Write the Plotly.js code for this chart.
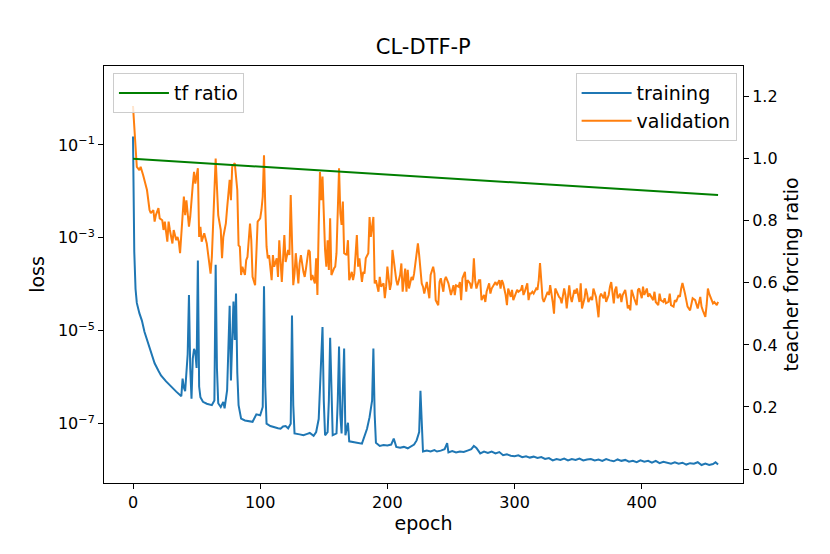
<!DOCTYPE html>
<html>
<head>
<meta charset="utf-8">
<script src="https://cdn.plot.ly/plotly-3.0.1.min.js"></script>
<style>
  body { margin: 0; background: #fff; }
  #graphDiv { width: 830px; height: 554px; }
</style>
</head>
<body>
<div id="graphDiv"></div>
<script>
// training loss as log10 values
var trainEpoch = [0, 1, 2, 3, 5, 7, 9, 12, 15, 17, 20, 22, 26, 30, 34, 38, 39, 40, 41, 43, 44, 45, 46, 47, 48, 49, 50, 51, 52, 53, 55, 58, 62, 64, 65, 66, 67, 69, 71, 72, 74, 76, 77, 79, 80, 81, 82, 83, 85, 88, 91, 94, 97, 100, 102, 103, 104, 105, 108, 111, 114, 116, 118, 120, 122, 124, 125, 126, 127, 131, 134, 137, 139, 142, 144, 146, 147, 149, 150, 151, 153, 154, 155, 156, 157, 160, 161, 162, 163, 164, 165, 166, 167, 169, 170, 173, 176, 180, 184, 186, 188, 189, 190, 191, 194, 197, 200, 203, 205, 207, 210, 213, 216, 218, 221, 223, 225, 226, 227, 228, 231, 234, 237, 239, 242, 245, 247, 248, 251, 254, 257, 260, 263, 266, 268, 270, 273, 276, 279, 282, 285, 288, 291, 294, 297, 300, 303, 306, 309, 312, 315, 318, 321, 324, 327, 330, 333, 336, 339, 342, 345, 348, 351, 354, 357, 360, 363, 366, 369, 372, 375, 378, 381, 384, 387, 390, 393, 396, 399, 402, 405, 408, 411, 414, 417, 420, 423, 426, 429, 432, 435, 438, 441, 444, 447, 450, 453, 456, 458, 460];
var trainLog = [-0.82, -3.3, -4.1, -4.4, -4.62, -4.78, -5.02, -5.29, -5.55, -5.7, -5.86, -5.96, -6.09, -6.21, -6.31, -6.41, -6.03, -6.22, -6.3, -5.5, -4.23, -5.8, -6.46, -5.6, -5.39, -5.46, -5.8, -3.49, -6.2, -6.43, -6.53, -6.57, -6.6, -6.5, -3.58, -5.8, -6.56, -6.64, -6.53, -6.67, -6.28, -4.46, -6.07, -4.37, -5.2, -4.2, -5.9, -6.6, -6.89, -6.93, -6.95, -6.96, -6.8, -6.82, -6.64, -4.04, -6.2, -7.0, -7.05, -7.08, -7.1, -7.11, -7.06, -7.05, -7.1, -7.0, -4.67, -6.6, -7.21, -7.23, -7.25, -7.22, -7.2, -7.26, -7.18, -6.9, -6.11, -4.92, -6.5, -7.25, -7.18, -6.5, -5.15, -6.6, -7.25, -7.21, -6.5, -5.34, -6.8, -7.21, -6.3, -5.38, -7.25, -6.98, -7.38, -7.4, -7.41, -7.43, -7.11, -6.86, -6.5, -5.38, -6.8, -7.41, -7.48, -7.46, -7.47, -7.45, -7.32, -7.5, -7.52, -7.5, -7.53, -7.5, -7.45, -7.36, -7.18, -6.29, -7.0, -7.6, -7.58, -7.6, -7.57, -7.6, -7.58, -7.55, -7.42, -7.62, -7.59, -7.62, -7.6, -7.61, -7.58, -7.55, -7.48, -7.52, -7.64, -7.6, -7.63, -7.6, -7.64, -7.61, -7.68, -7.66, -7.69, -7.7, -7.68, -7.72, -7.7, -7.73, -7.71, -7.74, -7.72, -7.76, -7.74, -7.79, -7.76, -7.78, -7.75, -7.79, -7.76, -7.78, -7.75, -7.79, -7.77, -7.76, -7.79, -7.77, -7.8, -7.76, -7.79, -7.81, -7.77, -7.8, -7.78, -7.82, -7.8, -7.83, -7.79, -7.82, -7.8, -7.84, -7.8, -7.85, -7.82, -7.84, -7.86, -7.83, -7.86, -7.84, -7.88, -7.85, -7.86, -7.83, -7.89, -7.86, -7.89, -7.87, -7.83, -7.88];

// validation loss, log10 values
var valEpoch = [0, 2, 3, 5, 6, 8, 10, 11, 13, 14, 16, 17, 18, 20, 21, 23, 24, 25, 27, 28, 29, 31, 32, 34, 35, 36, 37, 38, 40, 41, 42, 44, 45, 47, 48, 49, 51, 52, 53, 54, 56, 58, 59, 61, 62, 63, 65, 66, 67, 69, 70, 71, 73, 74, 75, 76, 77, 78, 80, 81, 82, 83, 84, 85, 86, 88, 89, 90, 92, 93, 94, 96, 97, 98, 100, 101, 102, 103, 104, 105, 106, 107, 109, 110, 111, 113, 114, 115, 117, 118, 119, 120, 122, 123, 124, 126, 127, 128, 130, 131, 132, 134, 135, 136, 138, 139, 140, 141, 143, 144, 145, 146, 147, 148, 149, 151, 152, 153, 154, 155, 156, 158, 159, 160, 162, 163, 164, 165, 166, 168, 169, 170, 172, 173, 174, 176, 177, 178, 180, 181, 182, 183, 185, 186, 187, 189, 190, 191, 193, 194, 195, 197, 198, 199, 200, 202, 203, 204, 206, 207, 208, 210, 211, 212, 214, 215, 216, 217, 219, 220, 221, 223, 224, 225, 227, 228, 229, 231, 232, 233, 234, 236, 237, 238, 240, 241, 242, 244, 245, 246, 248, 249, 250, 252, 253, 254, 256, 257, 258, 259, 261, 262, 263, 265, 266, 267, 268, 269, 270, 272, 273, 274, 276, 277, 278, 280, 281, 282, 284, 285, 286, 288, 289, 290, 291, 293, 294, 295, 297, 298, 299, 301, 302, 303, 305, 306, 307, 308, 310, 311, 312, 313, 314, 315, 317, 318, 319, 320, 322, 323, 324, 326, 327, 328, 330, 331, 332, 334, 335, 336, 337, 339, 340, 341, 343, 344, 345, 347, 348, 349, 351, 352, 353, 355, 356, 357, 358, 360, 361, 362, 364, 365, 366, 367, 368, 370, 371, 372, 374, 375, 376, 378, 379, 380, 381, 383, 384, 385, 387, 388, 389, 390, 391, 392, 393, 394, 396, 397, 398, 400, 401, 402, 404, 405, 406, 408, 409, 410, 411, 413, 414, 415, 417, 418, 419, 421, 422, 423, 425, 426, 427, 429, 430, 431, 432, 434, 435, 436, 438, 439, 440, 442, 443, 444, 446, 447, 448, 450, 451, 452, 453, 455, 456, 457, 459, 460];
var valLog = [-0.16, -0.89, -1.47, -1.54, -1.47, -1.65, -1.86, -1.97, -2.4, -2.47, -2.4, -2.65, -2.51, -2.36, -2.58, -2.62, -2.83, -2.65, -3.08, -2.65, -2.83, -3.12, -2.83, -3.05, -2.98, -3.08, -3.33, -2.98, -2.11, -2.51, -2.19, -2.76, -2.55, -1.86, -1.58, -1.83, -1.5, -2.98, -2.76, -3.08, -2.9, -3.12, -3.37, -3.77, -3.41, -2.55, -1.29, -1.9, -2.51, -2.83, -3.44, -2.98, -2.69, -2.36, -2.04, -1.75, -2.19, -1.47, -1.39, -1.75, -1.97, -3.16, -3.19, -3.8, -3.62, -3.8, -3.48, -3.41, -2.69, -3.05, -3.84, -4.02, -3.08, -2.65, -2.58, -2.4, -2.11, -1.22, -2.33, -3.19, -3.44, -3.37, -3.91, -3.37, -3.62, -3.44, -3.84, -3.05, -3.95, -3.41, -2.94, -3.52, -3.26, -3.37, -2.08, -4.02, -3.77, -3.33, -3.98, -3.55, -3.37, -3.73, -3.84, -3.66, -3.26, -3.3, -3.91, -3.8, -3.98, -3.44, -4.23, -2.76, -1.58, -2.19, -1.68, -3.26, -3.62, -3.05, -3.69, -2.58, -3.8, -3.66, -3.62, -3.33, -1.5, -2.47, -2.72, -2.22, -3.33, -3.37, -3.05, -3.91, -3.73, -3.91, -3.77, -2.94, -3.62, -3.44, -3.95, -3.73, -3.77, -3.44, -3.33, -2.55, -2.98, -2.55, -3.98, -3.91, -4.16, -3.84, -4.05, -3.98, -4.3, -4.05, -3.62, -4.12, -3.98, -3.26, -3.77, -3.91, -4.02, -3.8, -3.55, -4.16, -3.66, -4.16, -3.69, -4.09, -3.84, -3.91, -3.77, -3.26, -3.12, -3.37, -3.98, -4.05, -4.2, -3.95, -4.12, -4.3, -3.8, -3.62, -3.77, -4.34, -4.45, -3.95, -3.87, -4.16, -3.91, -3.84, -3.98, -4.09, -4.23, -4.02, -4.23, -4.02, -4.05, -3.95, -4.34, -3.87, -3.73, -4.16, -3.91, -3.98, -4.09, -3.95, -3.44, -3.91, -4.09, -3.91, -3.91, -4.34, -4.23, -4.38, -4.16, -3.98, -4.2, -4.09, -3.98, -3.95, -4.02, -3.91, -4.09, -3.91, -3.98, -4.23, -4.45, -4.09, -4.27, -4.12, -4.34, -4.2, -4.12, -4.16, -4.12, -4.02, -4.23, -4.16, -3.98, -4.34, -4.2, -4.2, -4.16, -4.2, -4.09, -4.12, -3.91, -3.54, -4.3, -4.38, -4.3, -4.16, -4.23, -4.02, -4.38, -4.63, -4.09, -4.23, -4.27, -4.3, -4.41, -4.09, -4.23, -4.52, -4.02, -4.27, -4.38, -4.12, -4.2, -4.09, -4.38, -3.98, -4.52, -4.3, -4.09, -4.2, -4.38, -4.27, -4.34, -4.09, -4.27, -4.48, -4.71, -4.27, -4.2, -4.3, -4.16, -4.38, -4.23, -4.05, -3.95, -4.41, -4.12, -4.05, -4.3, -4.2, -4.38, -4.23, -4.12, -4.3, -4.52, -4.45, -4.56, -4.12, -4.23, -4.3, -4.45, -4.12, -4.09, -4.3, -4.05, -4.23, -4.09, -4.27, -4.2, -4.3, -4.34, -4.16, -4.38, -4.45, -4.2, -4.34, -4.38, -4.3, -4.41, -4.38, -4.2, -4.45, -4.48, -4.34, -4.38, -4.23, -4.27, -4.09, -3.97, -4.2, -4.34, -4.48, -4.56, -4.38, -4.3, -4.34, -4.45, -4.52, -4.27, -4.48, -4.56, -4.7, -4.45, -4.09, -4.2, -4.34, -4.41, -4.38, -4.45, -4.38];

// teacher forcing ratio (straight line from start to end)
var tfEpoch = [0, 460];
var tfRatio = [1.0, 0.883];

var trainLoss = trainLog.map(function (v) { return Math.pow(10, v); });
var valLoss = valLog.map(function (v) { return Math.pow(10, v); });

var lossTicks = [1e-7, 1e-5, 1e-3, 1e-1];
var lossTickText = ['10<sup>\u22127</sup>', '10<sup>\u22125</sup>', '10<sup>\u22123</sup>', '10<sup>\u22121</sup>'];
var ratioTicks = [0, 0.2, 0.4, 0.6, 0.8, 1.0, 1.2];
var ratioTickText = ['0.0', '0.2', '0.4', '0.6', '0.8', '1.0', '1.2'];

var trainTrace = {
  x: trainEpoch, y: trainLoss, type: 'scatter', mode: 'lines', name: 'training',
  line: {color: '#1f77b4', width: 2}, legend: 'legend2'
};
var valTrace = {
  x: valEpoch, y: valLoss, type: 'scatter', mode: 'lines', name: 'validation',
  line: {color: '#ff7f0e', width: 2}, legend: 'legend2'
};
var tfTrace = {
  x: tfEpoch, y: tfRatio, type: 'scatter', mode: 'lines', name: 'tf ratio',
  yaxis: 'y2', line: {color: '#007f00', width: 2}, legend: 'legend'
};

var axisBase = {
  showline: true, linecolor: '#000', linewidth: 1, ticks: 'outside', ticklen: 5,
  tickcolor: '#000', showgrid: false, zeroline: false,
  tickfont: {size: 16, color: '#000'}
};

var legendBase = {
  yanchor: 'top', y: 0.983,
  bgcolor: 'rgba(255,255,255,0.8)', bordercolor: '#cccccc', borderwidth: 1,
  font: {size: 19}, itemwidth: 50
};

var layout = {
  width: 830, height: 554,
  margin: {l: 104, r: 87, t: 66, b: 71},
  paper_bgcolor: '#fff', plot_bgcolor: '#fff',
  font: {family: 'DejaVu Sans, sans-serif', color: '#000'},
  title: {text: 'CL-DTF-P', font: {size: 21, color: '#000'}, x: 0.51, xanchor: 'center', y: 0.915, yanchor: 'middle'},
  xaxis: Object.assign({}, axisBase, {
    range: [-22.8, 479.6], tickvals: [0, 100, 200, 300, 400], mirror: true,
    title: {text: 'epoch', font: {size: 19}, standoff: 4}
  }),
  yaxis: Object.assign({}, axisBase, {
    type: 'log', range: [-8.277, 0.70], tickvals: lossTicks, ticktext: lossTickText,
    title: {text: 'loss', font: {size: 19}, standoff: 8}
  }),
  yaxis2: Object.assign({}, axisBase, {
    overlaying: 'y', side: 'right', range: [-0.045, 1.299],
    tickvals: ratioTicks, ticktext: ratioTickText,
    title: {text: 'teacher forcing ratio', font: {size: 19}, standoff: 8}
  }),
  legend: Object.assign({}, legendBase, {x: 0.014, xanchor: 'left'}),
  legend2: Object.assign({}, legendBase, {x: 0.99, xanchor: 'right'}),
  showlegend: true
};

Plotly.newPlot('graphDiv', [trainTrace, valTrace, tfTrace], layout, {displayModeBar: false, staticPlot: true});
</script>
</body>
</html>
